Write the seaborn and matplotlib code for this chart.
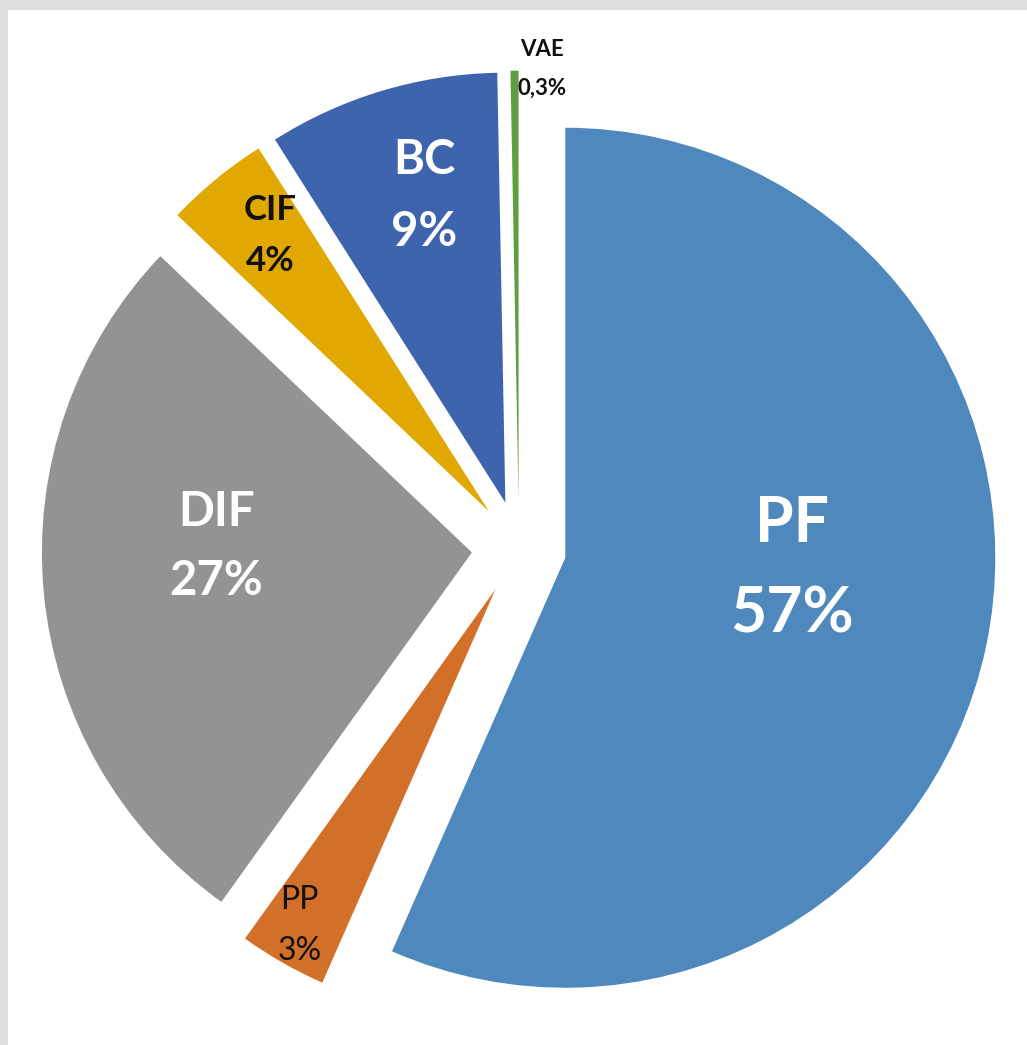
import numpy as np
import matplotlib
matplotlib.use("Agg")
import matplotlib.pyplot as plt
import seaborn as sns
from matplotlib.patches import Rectangle

# ---- data ----
categories = ["PF", "PP", "DIF", "CIF", "BC", "VAE"]
shares = [56.6, 3.3, 27.2, 3.9, 8.7, 0.3]

# ---- styles ----
colors = ["#4F88BC", "#D2702A", "#939393", "#E0A800", "#3E64AD", "#5F9E3F"]
text_colors = ["white", "#111111", "white", "#111111", "white", "#111111"]
font_sizes = [45, 23, 34, 25, 34, 16]
font_weights = ["bold", "normal", "bold", "bold", "bold", "bold"]
label_r = [0.529, 0.905, 0.594, 0.819, 0.738, 1.006]
label_dtheta = [9.0, -0.5, -6.8, -1.0, -1.9, -3.7]
line_sp = [1.68, 1.85, 1.70, 1.70, 1.76, 2.0]

sns.set_theme(style="white")
plt.rcParams['font.family'] = ['Lato', 'DejaVu Sans']

W, H = 1027, 1045
fig = plt.figure(figsize=(W / 100, H / 100), dpi=100)
fig.patch.set_facecolor("white")
ax = fig.add_axes([0, 0, 1, 1])

wedges, _ = ax.pie(shares, colors=colors, explode=[0.11] * len(shares),
                   startangle=90, counterclock=False, radius=1,
                   wedgeprops=dict(linewidth=0))

R = 430.0
cx, cy = 519.0, 548.0
ax.set_xlim(-cx / R, (W - cx) / R)
ax.set_ylim(-(H - cy) / R, cy / R)
ax.set_aspect('auto')
ax.axis('off')


def fmt(v):
    if v >= 1:
        return f"{v:.0f}%"
    return f"{v:.1f}%".replace(".", ",")


for i, w in enumerate(wedges):
    mid = np.deg2rad((w.theta1 + w.theta2) / 2 + label_dtheta[i])
    x0, y0 = w.center
    x = x0 + label_r[i] * np.cos(mid)
    y = y0 + label_r[i] * np.sin(mid)
    ax.text(x, y, f"{categories[i]}\n{fmt(shares[i])}", ha="center", va="center",
            color=text_colors[i], fontsize=font_sizes[i], fontweight=font_weights[i],
            linespacing=line_sp[i], multialignment="center")

# light gray frame at top and left
fig.add_artist(Rectangle((0, 1 - 10 / H), 1, 10 / H, transform=fig.transFigure,
                         facecolor="#dedede", edgecolor="none", zorder=5))
fig.add_artist(Rectangle((0, 0), 8 / W, 1, transform=fig.transFigure,
                         facecolor="#dedede", edgecolor="none", zorder=5))

fig.savefig("out.png", dpi=100, facecolor="white")
